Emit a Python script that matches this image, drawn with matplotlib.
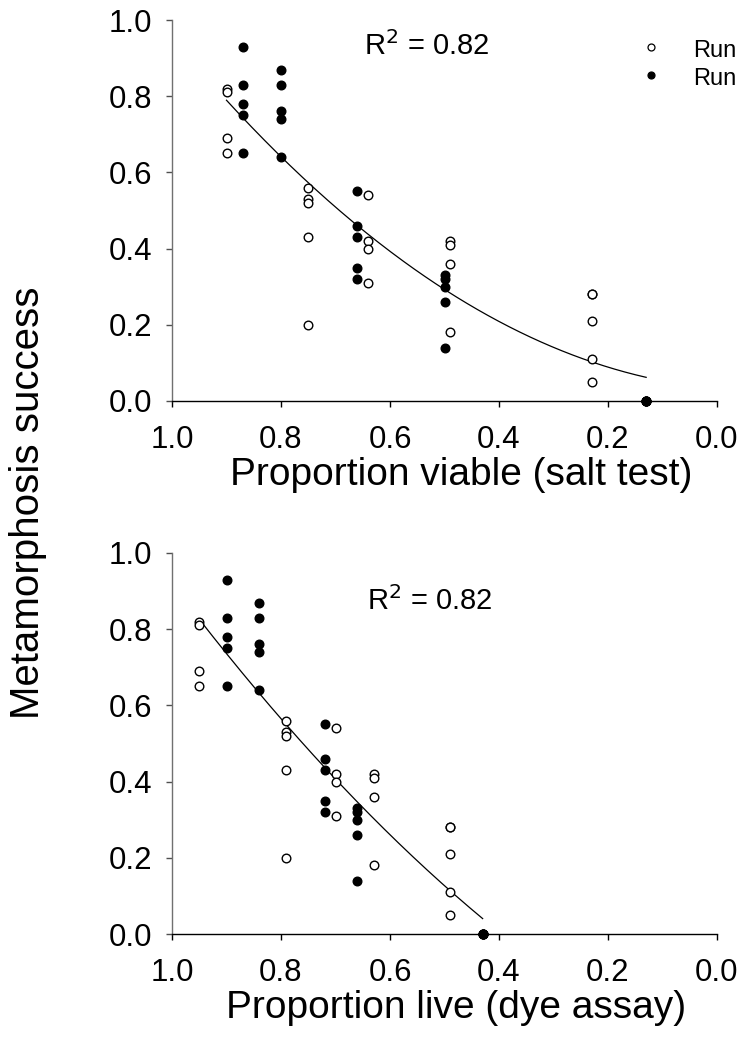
import numpy as np
import matplotlib
matplotlib.use("Agg")
import matplotlib.pyplot as plt

plt.rcParams['font.family'] = ['Liberation Sans', 'DejaVu Sans']

# ---------------- data ----------------
# Metamorphosis success per group (same replicates used in both panels)
run1_success = [
    [0.82, 0.81, 0.69, 0.65],
    [0.56, 0.53, 0.52, 0.43, 0.20],
    [0.54, 0.42, 0.40, 0.31],
    [0.42, 0.41, 0.36, 0.18],
    [0.28, 0.28, 0.21, 0.11, 0.05],
]
run2_success = [
    [0.93, 0.83, 0.78, 0.75, 0.65],
    [0.87, 0.83, 0.76, 0.74, 0.64],
    [0.55, 0.46, 0.43, 0.35, 0.32],
    [0.33, 0.32, 0.30, 0.26, 0.14],
    [0.00, 0.00, 0.00, 0.00, 0.00],
]
# Proportion viable (salt test), per group
run1_salt = [0.90, 0.75, 0.64, 0.49, 0.23]
run2_salt = [0.87, 0.80, 0.66, 0.50, 0.13]
# Proportion live (dye assay), per group
run1_dye = [0.95, 0.79, 0.70, 0.63, 0.49]
run2_dye = [0.90, 0.84, 0.72, 0.66, 0.43]

r2_text = [r"R$^2$ = 0.82", r"R$^2$ = 0.82"]
legend_labels = ["Run", "Run"]
xlabels = ["Proportion viable (salt test)", "Proportion live (dye assay)"]
ylabel = "Metamorphosis success"
ticks = [0.0, 0.2, 0.4, 0.6, 0.8, 1.0]


def expand(xs, ys):
    X, Y = [], []
    for x, group in zip(xs, ys):
        X += [x] * len(group)
        Y += list(group)
    return np.array(X), np.array(Y)


W, H = 742, 1044
fig = plt.figure(figsize=(W / 100, H / 100), dpi=100)

panels = [
    (run1_salt, run2_salt, xlabels[0], 401, (0.467, 0.908), 0.530, -0.146),
    (run1_dye, run2_dye, xlabels[1], 934, (0.473, 0.850), 0.521, -0.148),
]

for i, (x1, x2, xl, ybot, r2pos, xlab_x, xlab_y) in enumerate(panels):
    left = 172 / W
    width = 545 / W
    height = 381 / H
    bottom = 1 - ybot / H
    ax = fig.add_axes([left, bottom, width, height])
    X1, Y1 = expand(x1, run1_success)
    X2, Y2 = expand(x2, run2_success)

    # quadratic regression over all points
    Xa = np.concatenate([X1, X2])
    Ya = np.concatenate([Y1, Y2])
    coef = np.polyfit(Xa, Ya, 2)
    xs = np.linspace(Xa.min(), Xa.max(), 200)
    ax.plot(xs, np.polyval(coef, xs), color='black', lw=0.9, zorder=2)

    ax.plot(X1, Y1, 'o', ms=6.2, mfc='white', mec='black', mew=1.0,
            clip_on=False, zorder=3, ls='none')
    ax.plot(X2, Y2, 'o', ms=6.2, mfc='black', mec='black', mew=1.0,
            clip_on=False, zorder=4, ls='none')

    ax.set_xlim(1.0, 0.0)
    ax.set_ylim(0.0, 1.0)
    ax.set_xticks(ticks)
    ax.set_yticks(ticks)
    ax.set_xticklabels([f"{t:.1f}" for t in ticks])
    ax.set_yticklabels([f"{t:.1f}" for t in ticks])
    for s in ['top', 'right']:
        ax.spines[s].set_visible(False)
    ax.spines['bottom'].set_color('black')
    ax.spines['left'].set_color('#707070')
    ax.spines['bottom'].set_linewidth(1.0)
    ax.spines['left'].set_linewidth(1.0)
    ax.tick_params(axis='x', direction='out', length=4, width=1, pad=13,
                   labelsize=22.5, color='black')
    ax.tick_params(axis='y', direction='out', length=4, width=1, pad=10,
                   labelsize=22.5, color='#505050')
    ax.set_xlabel(xl, fontsize=28)
    ax.xaxis.set_label_coords(xlab_x, xlab_y)
    ax.xaxis.label.set_va('top')

    ax.text(r2pos[0], r2pos[1], r2_text[i],
            transform=ax.transAxes, fontsize=21, ha='center', va='baseline')

    if i == 0:
        fig.add_artist(plt.Line2D([651 / W], [1 - 47 / H], marker='o', ms=5,
                                  mfc='white', mec='black', mew=0.9,
                                  transform=fig.transFigure, ls='none'))
        fig.add_artist(plt.Line2D([651 / W], [1 - 75 / H], marker='o', ms=5,
                                  mfc='black', mec='black', mew=0.9,
                                  transform=fig.transFigure, ls='none'))
        fig.text(693 / W, 1 - 57 / H, legend_labels[0], fontsize=17,
                 ha='left', va='baseline')
        fig.text(693 / W, 1 - 85 / H, legend_labels[1], fontsize=17,
                 ha='left', va='baseline')

fig.text(28 / W, 1 - 503 / H, ylabel, rotation=90, fontsize=29,
         ha='center', va='center')

fig.savefig("out.png", dpi=100)
